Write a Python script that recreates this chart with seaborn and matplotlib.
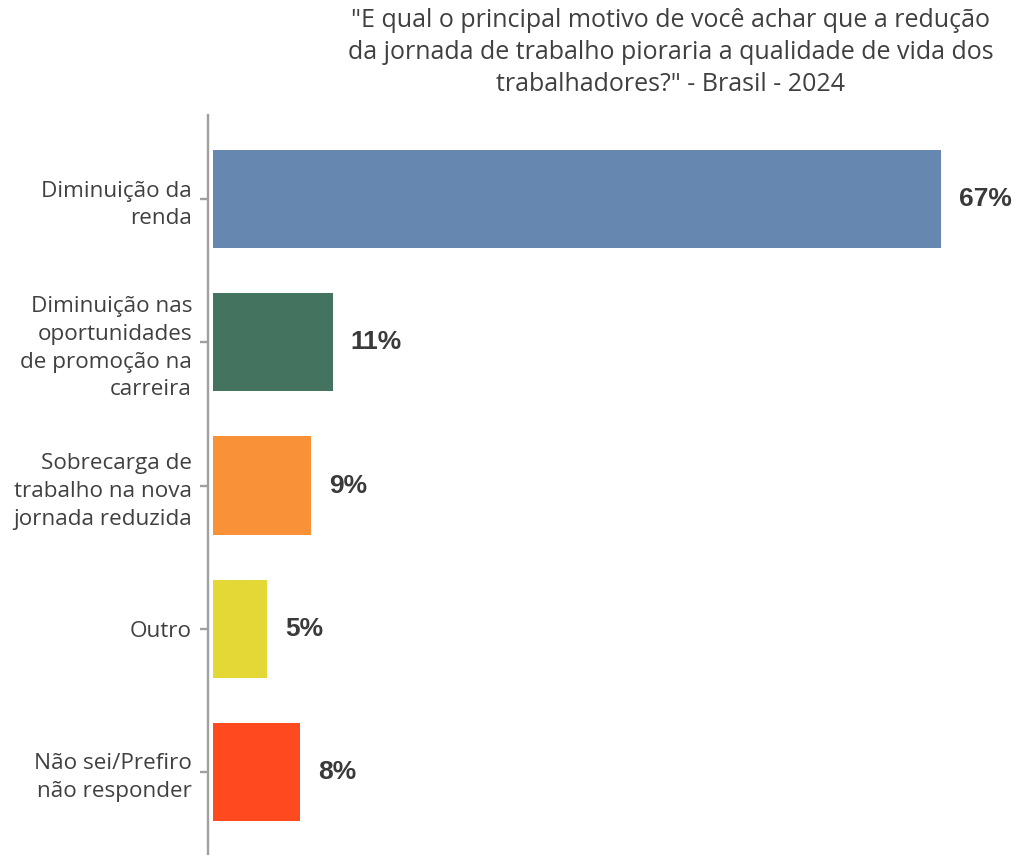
import pandas as pd
import seaborn as sns
import matplotlib.pyplot as plt

# data
categorias = ["Diminuição da\nrenda",
              "Diminuição nas\noportunidades\nde promoção na\ncarreira",
              "Sobrecarga de\ntrabalho na nova\njornada reduzida",
              "Outro",
              "Não sei/Prefiro\nnão responder"]
valores = [67, 11, 9, 5, 8]
cores = ["#6688B0", "#44735F", "#F99139", "#E4D837", "#FF4A1F"]

df = pd.DataFrame({"categoria": categorias, "valor": valores})

sns.set_style("white")
plt.rcParams['font.family'] = ['Open Sans', 'DejaVu Sans']

fig = plt.figure(figsize=(10.15, 8.55), dpi=100)
ax = fig.add_axes([0.2049, 0.0, 0.7951, 0.8655])

sns.barplot(data=df, x="valor", y="categoria", hue="categoria", palette=cores,
            orient="h", width=0.685, legend=False, edgecolor="none",
            saturation=1, ax=ax)

ax.set_xlim(-0.46, 73.8)
ax.set_ylim(4.58, -0.587)
ax.set_xlabel("")
ax.set_ylabel("")
ax.set_xticks([])

for s in ["top", "right", "bottom"]:
    ax.spines[s].set_visible(False)
ax.spines["left"].set_color("#A0A0A0")
ax.spines["left"].set_linewidth(1.7)
ax.tick_params(axis="y", length=5.5, width=1.7, color="#A0A0A0", pad=6,
               labelsize=16.2, labelcolor="#404040", left=True)
for lab in ax.get_yticklabels():
    lab.set_linespacing(1.42)

# value labels
for i, v in enumerate(valores):
    ax.annotate(f"{v}%", xy=(v, i), xytext=(13, 0), textcoords="offset points",
                ha="left", va="center", fontsize=19, fontweight="bold",
                color="#3A3A3A", family="Liberation Sans")

fig.text(0.661, 0.991, "\"E qual o principal motivo de você achar que a redução\n"
         "da jornada de trabalho pioraria a qualidade de vida dos\n"
         "trabalhadores?\" - Brasil - 2024",
         ha="center", va="top", fontsize=18, color="#404040", linespacing=1.38)

fig.savefig("out.png", dpi=100)
